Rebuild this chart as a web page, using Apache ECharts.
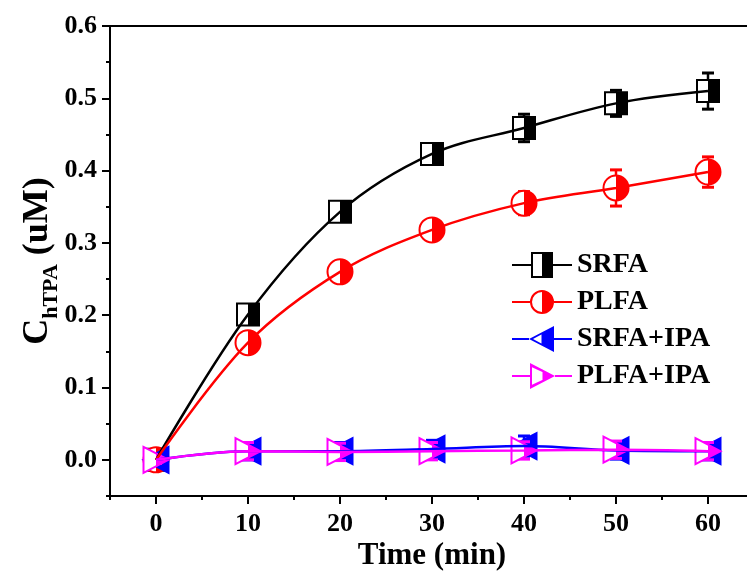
<!DOCTYPE html>
<html>
<head>
<meta charset="utf-8">
<script src="https://cdn.jsdelivr.net/npm/echarts@6/dist/echarts.min.js"></script>
<style>
  html, body { margin: 0; padding: 0; background: #fff; }
  #chart { width: 747px; height: 575px; }
</style>
</head>
<body>
<div id="chart"></div>
<script>
// data
const times = [0, 10, 20, 30, 40, 50, 60];
const srfa = [0.0, 0.201, 0.343, 0.423, 0.459, 0.493, 0.510];
const srfaErr = [0.005, 0.008, 0.008, 0.010, 0.019, 0.018, 0.025];
const plfa = [0.0, 0.162, 0.260, 0.318, 0.355, 0.376, 0.398];
const plfaErr = [0.005, 0.008, 0.008, 0.010, 0.016, 0.025, 0.021];
const srfaIpa = [0.0, 0.012, 0.012, 0.015, 0.019, 0.013, 0.012];
const srfaIpaErr = [0.005, 0.012, 0.012, 0.012, 0.014, 0.012, 0.012];
const plfaIpa = [0.0, 0.012, 0.011, 0.012, 0.013, 0.014, 0.012];
const plfaIpaErr = [0.005, 0.012, 0.012, 0.012, 0.012, 0.012, 0.012];

const xMajor = [0, 10, 20, 30, 40, 50, 60];
const xMinor = [-5, 5, 15, 25, 35, 45, 55, 65];
const yMajor = [0, 0.1, 0.2, 0.3, 0.4, 0.5, 0.6];

const FONT = 'Liberation Serif';

// legend icons: line + outlined marker with right half filled (60x26 box)
const iconSquare = 'path://M0 12H19V14H0Z M41 12H60V14H41Z M19 0H41V26H19Z M21 2V24H39V2Z M30 2H39V24H30Z';
const iconCircle = 'path://M0 12H18V14H0Z M42 12H60V14H42Z M30 1A12 12 0 1 1 30 25A12 12 0 1 1 30 1Z M30 3A10 10 0 1 0 30 23A10 10 0 1 0 30 3Z M30 3A10 10 0 0 1 30 23Z';
const iconLeftTri = 'path://M0 12H17V14H0Z M42 12H60V14H42Z M17 13L42 0L42 26Z M21 13L40 23.2L40 2.8Z M29.5 8.3L42 1.5L42 24.5L29.5 17.7Z';
const iconRightTri = 'path://M0 12H18V14H0Z M43 12H60V14H43Z M18 0L43 13L18 26Z M20 4.2L20 21.8L39 13Z M30.5 6.5L43 13L30.5 19.5Z';

function rows(vals, errs) {
  return times.map((t, i) => [t, vals[i], vals[i] - errs[i], vals[i] + errs[i]]);
}

function markerShape(kind, p, color) {
  const x = p[0], y = p[1];
  const st = { fill: '#fff', stroke: color, lineWidth: 2 };
  const fs = { fill: color };
  if (kind === 'square') {
    return [
      { type: 'rect', shape: { x: x - 11, y: y - 11, width: 22, height: 22 }, style: st },
      { type: 'rect', shape: { x: x, y: y - 11, width: 11, height: 22 }, style: fs }
    ];
  }
  if (kind === 'circle') {
    return [
      { type: 'circle', shape: { cx: x, cy: y, r: 12.5 }, style: st },
      { type: 'sector', shape: { cx: x, cy: y, r0: 0, r: 12.5, startAngle: -Math.PI / 2, endAngle: Math.PI / 2, clockwise: true }, style: fs }
    ];
  }
  if (kind === 'left') {
    const h = 13, hw = 12.5, m = h / 2;
    return [
      { type: 'polygon', shape: { points: [[x - hw, y], [x + hw, y - h], [x + hw, y + h]] }, style: st },
      { type: 'polygon', shape: { points: [[x, y - m], [x + hw, y - h], [x + hw, y + h], [x, y + m]] }, style: fs }
    ];
  }
  // right-pointing
  const h = 13, hw = 12.5, m = h / 2;
  return [
    { type: 'polygon', shape: { points: [[x - hw, y - h], [x + hw, y], [x - hw, y + h]] }, style: st },
    { type: 'polygon', shape: { points: [[x, y - m], [x + hw, y], [x, y + m]] }, style: fs }
  ];
}

function markerSeries(name, data, kind, color) {
  return {
    name: name,
    type: 'custom',
    data: data,
    z: 3,
    silent: true,
    renderItem: function (params, api) {
      const p = api.coord([api.value(0), api.value(1)]);
      const lo = api.coord([api.value(0), api.value(2)]);
      const hi = api.coord([api.value(0), api.value(3)]);
      return {
        type: 'group',
        children: [
          { type: 'line', shape: { x1: p[0], y1: hi[1], x2: p[0], y2: lo[1] }, style: { stroke: color, lineWidth: 2.5 } },
          { type: 'line', shape: { x1: p[0] - 6, y1: hi[1], x2: p[0] + 6, y2: hi[1] }, style: { stroke: color, lineWidth: 3 } },
          { type: 'line', shape: { x1: p[0] - 6, y1: lo[1], x2: p[0] + 6, y2: lo[1] }, style: { stroke: color, lineWidth: 3 } }
        ].concat(markerShape(kind, p, color))
      };
    }
  };
}

function lineSeries(name, vals, color) {
  return {
    name: name,
    type: 'line',
    data: times.map((t, i) => [t, vals[i]]),
    smooth: 0.35,
    symbol: 'none',
    z: 3,
    itemStyle: { color: color },
    lineStyle: { color: color, width: 2.5 }
  };
}

const labelStyle = { fontFamily: FONT, fontWeight: 'bold', fontSize: 26, color: '#000' };
const axisLine = { show: true, onZero: false, lineStyle: { color: '#000', width: 2 } };
const X_MIN = -5, X_MAX = 65, Y_MIN = -0.05, Y_MAX = 0.6;

const chart = echarts.init(document.getElementById('chart'), null, { renderer: 'canvas' });
chart.setOption({
  animation: false,
  backgroundColor: '#fff',
  grid: {
    left: 110,
    right: -7,
    top: 26,
    bottom: 79,
    outerBoundsMode: 'none'
  },
  legend: {
    left: 507,
    top: 246,
    orient: 'vertical',
    itemWidth: 60,
    itemHeight: 26,
    itemGap: 9,
    itemStyle: { borderWidth: 0 },
    textStyle: { fontFamily: FONT, fontWeight: 'bold', fontSize: 28, color: '#000' },
    data: [
      { name: 'SRFA', icon: iconSquare },
      { name: 'PLFA', icon: iconCircle },
      { name: 'SRFA+IPA', icon: iconLeftTri },
      { name: 'PLFA+IPA', icon: iconRightTri }
    ]
  },
  xAxis: [
    {
      type: 'value',
      min: X_MIN,
      max: X_MAX,
      position: 'bottom',
      axisLine: axisLine,
      axisTick: { customValues: xMinor, length: 4, lineStyle: { color: '#000', width: 2 } },
      axisLabel: { show: false },
      splitLine: { show: false }
    },
    {
      type: 'value',
      min: X_MIN,
      max: X_MAX,
      position: 'bottom',
      axisLine: { show: false, onZero: false },
      axisTick: { customValues: xMajor, length: 8, lineStyle: { color: '#000', width: 2 } },
      axisLabel: Object.assign({ customValues: xMajor, margin: 15 }, labelStyle),
      splitLine: { show: false },
      name: 'Time (min)',
      nameLocation: 'middle',
      nameGap: 44,
      nameMoveOverlap: false,
      nameTextStyle: { fontFamily: FONT, fontWeight: 'bold', fontSize: 31, color: '#000' }
    },
    {
      type: 'value',
      min: X_MIN,
      max: X_MAX,
      position: 'top',
      axisLine: axisLine,
      axisTick: { show: false },
      axisLabel: { show: false },
      splitLine: { show: false }
    }
  ],
  yAxis: [
    {
      type: 'value',
      min: Y_MIN,
      max: Y_MAX,
      interval: 0.05,
      position: 'left',
      axisLine: axisLine,
      axisTick: { show: true, length: 4, lineStyle: { color: '#000', width: 2 } },
      axisLabel: { show: false },
      splitLine: { show: false }
    },
    {
      type: 'value',
      min: Y_MIN,
      max: Y_MAX,
      position: 'left',
      axisLine: { show: false, onZero: false },
      axisTick: { show: true, customValues: yMajor, length: 8, lineStyle: { color: '#000', width: 2 } },
      axisLabel: Object.assign({ customValues: yMajor, margin: 13, formatter: v => v.toFixed(1) }, labelStyle),
      splitLine: { show: false },
      name: '{a|C}{b|hTPA}{a| (uM)}',
      nameLocation: 'middle',
      nameGap: 48,
      nameMoveOverlap: false,
      nameTextStyle: {
        rich: {
          a: { fontFamily: FONT, fontWeight: 'bold', fontSize: 36, color: '#000' },
          b: { fontFamily: FONT, fontWeight: 'bold', fontSize: 22, color: '#000', padding: [26, 0, 0, 0] }
        }
      }
    }
  ],
  series: [
    lineSeries('SRFA', srfa, '#000000'),
    markerSeries('SRFA markers', rows(srfa, srfaErr), 'square', '#000000'),
    lineSeries('PLFA', plfa, '#ff0000'),
    markerSeries('PLFA markers', rows(plfa, plfaErr), 'circle', '#ff0000'),
    lineSeries('SRFA+IPA', srfaIpa, '#0000ff'),
    markerSeries('SRFA+IPA markers', rows(srfaIpa, srfaIpaErr), 'left', '#0000ff'),
    lineSeries('PLFA+IPA', plfaIpa, '#ff00ff'),
    markerSeries('PLFA+IPA markers', rows(plfaIpa, plfaIpaErr), 'right', '#ff00ff')
  ]
});
</script>
</body>
</html>
